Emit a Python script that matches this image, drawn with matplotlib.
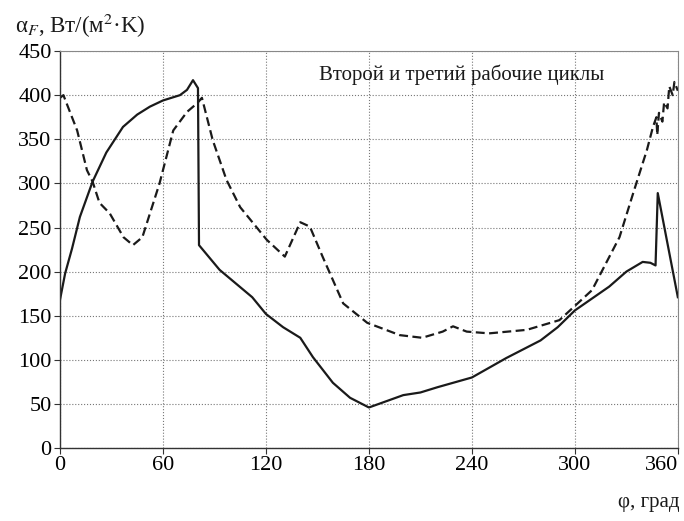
import matplotlib.pyplot as plt

plt.rcParams['font.family'] = ['Liberation Serif', 'DejaVu Serif']
plt.rcParams['mathtext.fontset'] = 'stix'

# solid curve
phi_solid = [0, 3, 7, 11.6, 19, 27, 36.7, 45, 52.4, 60, 69.9, 74, 77.5, 80.4, 81,
             93, 112, 120, 130, 140, 147.4, 159, 169, 180, 190, 200, 210, 220,
             240, 260, 280, 290, 300, 320, 330, 339.5, 344, 347, 348.3, 360]
alpha_solid = [168, 198, 226, 262, 302, 335, 364, 378, 387, 394, 400, 406, 417, 408, 230,
               202, 171, 152, 137, 125, 103, 74, 57, 46, 53, 60, 63, 69,
               80, 102, 122, 137, 156, 183, 200, 211, 210, 207, 289, 171]

# dashed curve
phi_dash = [0, 2, 10, 15.7, 19, 23, 29, 37, 42.5, 48, 58, 66, 74, 80, 82.7,
            89, 97, 105, 120.5, 131, 140, 145.6, 153, 165, 179, 198, 211, 223,
            229, 237, 250, 272, 291, 310, 326, 334, 342, 345.5, 347.5, 348,
            349, 351, 352, 354, 355, 357, 358, 360]
alpha_dash = [397, 400, 360, 315, 302, 278, 266, 239, 230, 239, 300, 360, 381, 391, 397,
              349, 304, 273, 236, 217, 256, 251, 217, 164, 142, 128, 125, 132,
              138, 132, 130, 134, 145, 179, 239, 289, 338, 364, 375, 355,
              380, 370, 392, 385, 410, 400, 415, 405]

x_ticks = [0, 60, 120, 180, 240, 300, 360]
y_ticks = [0, 50, 100, 150, 200, 250, 300, 350, 400, 450]

fig = plt.figure(figsize=(6.84, 5.21), dpi=100)
ax = fig.add_axes([0.0877, 0.140, 0.9033, 0.762])

ax.plot(phi_solid, alpha_solid, color='#1a1a1a', lw=1.6)
ax.plot(phi_dash, alpha_dash, color='#1a1a1a', lw=1.6, ls=(0, (4, 2)))

ax.set_xlim(0, 360)
ax.set_ylim(0, 450)
ax.set_xticks(x_ticks)
ax.set_yticks(y_ticks)
ax.tick_params(labelsize=16, length=4, color='#333333', pad=2)
ax.get_xticklabels()[-1].set_ha('right')
ax.grid(True, ls=':', color='#777777', lw=0.8)

for s in ['top', 'right']:
    ax.spines[s].set_color('#888888')
    ax.spines[s].set_linewidth(0.8)
for s in ['left', 'bottom']:
    ax.spines[s].set_color('#333333')
    ax.spines[s].set_linewidth(1.0)

ax.text(151, 423, 'Второй и третий рабочие циклы', fontsize=15, va='center', ha='left',
        color='#1a1a1a')

fig.text(0.022, 0.95, r'α$_F$, Вт/(м$^2$·K)', fontsize=16.5, va='center', ha='left',
         color='#1a1a1a')
fig.text(0.994, 0.035, 'φ, град', fontsize=15, va='center', ha='right', color='#1a1a1a')

fig.savefig('out.png', dpi=100)
